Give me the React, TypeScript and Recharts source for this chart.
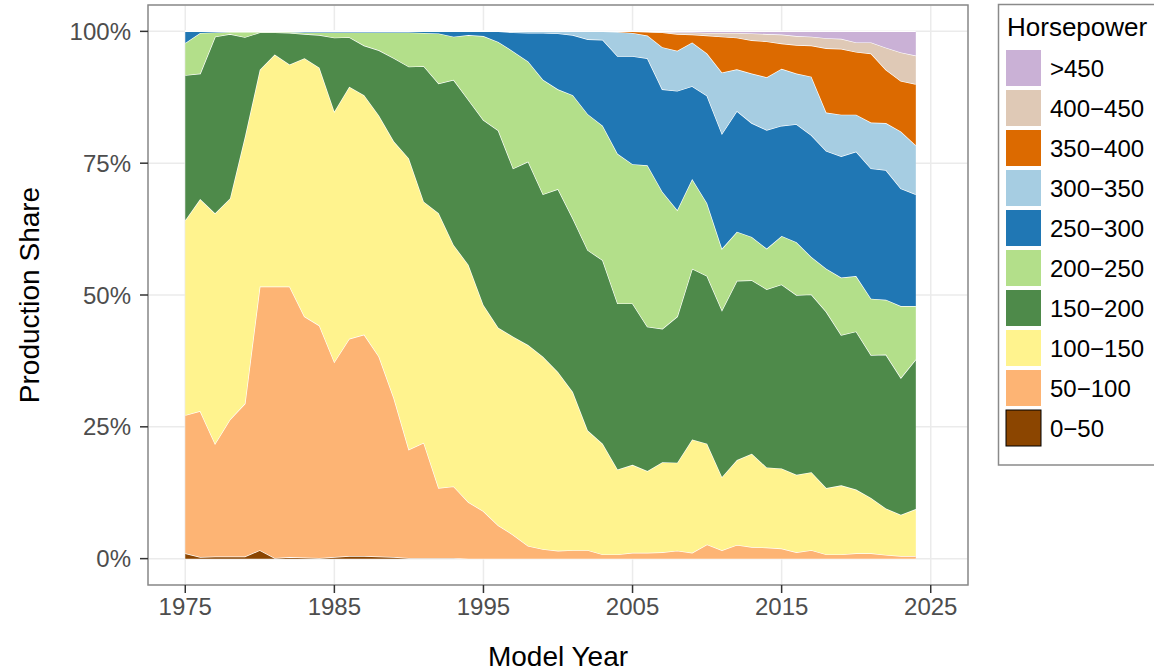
import React from 'react';
import { AreaChart, Area, XAxis, YAxis, CartesianGrid, ReferenceArea } from 'recharts';

const FONT = '"Liberation Sans", Arial, Helvetica, sans-serif';

const years = [
  1975, 1976, 1977, 1978, 1979, 1980, 1981, 1982, 1983, 1984,
  1985, 1986, 1987, 1988, 1989, 1990, 1991, 1992, 1993, 1994,
  1995, 1996, 1997, 1998, 1999, 2000, 2001, 2002, 2003, 2004,
  2005, 2006, 2007, 2008, 2009, 2010, 2011, 2012, 2013, 2014,
  2015, 2016, 2017, 2018, 2019, 2020, 2021, 2022, 2023, 2024,
];

const hp0to50 = [
  1.0, 0.3, 0.4, 0.4, 0.4, 1.6, 0.1, 0.3, 0.2, 0.1,
  0.3, 0.5, 0.5, 0.4, 0.3, 0.1, 0.1, 0.1, 0.1, 0,
  0, 0, 0, 0, 0, 0, 0, 0, 0, 0,
  0, 0, 0, 0, 0, 0, 0, 0, 0, 0,
  0, 0, 0, 0, 0, 0, 0, 0, 0, 0,
];
const hp50to100 = [
  26.2, 27.7, 21.4, 26.0, 29.0, 50.0, 51.5, 51.3, 45.7, 44.1,
  37.0, 41.2, 42.0, 37.9, 30.1, 20.6, 21.9, 13.3, 13.6, 10.7,
  9.0, 6.3, 4.5, 2.4, 1.8, 1.5, 1.6, 1.6, 0.8, 0.8,
  1.1, 1.1, 1.2, 1.5, 1.1, 2.7, 1.6, 2.6, 2.2, 2.1,
  1.9, 1.2, 1.6, 0.8, 0.8, 1.0, 1.0, 0.7, 0.5, 0.5,
];
const hp100to150 = [
  37.0, 40.2, 43.7, 41.9, 50.6, 41.1, 44.0, 42.1, 49.0, 48.9,
  47.5, 47.8, 45.4, 45.7, 48.7, 55.2, 45.7, 52.1, 45.8, 45.0,
  39.1, 37.5, 37.6, 38.1, 36.5, 33.9, 30.0, 22.7, 21.0, 16.1,
  16.7, 15.5, 17.1, 16.7, 21.5, 19.1, 13.9, 16.1, 17.7, 15.2,
  15.2, 14.7, 14.8, 12.6, 13.1, 12.1, 10.5, 8.8, 7.8, 8.9,
];
const hp150to200 = [
  27.5, 23.8, 33.5, 31.2, 18.9, 7.1, 4.2, 6.0, 4.6, 6.2,
  14.0, 9.4, 9.4, 12.4, 15.8, 17.4, 25.7, 24.6, 31.3, 31.3,
  35.1, 37.4, 31.9, 34.8, 30.8, 34.7, 32.9, 34.2, 34.8, 31.5,
  30.6, 27.4, 25.3, 27.7, 32.4, 31.8, 31.6, 34.0, 32.9, 33.8,
  34.9, 34.1, 33.7, 33.4, 28.5, 30.0, 27.1, 29.2, 26.0, 28.4,
];
const hp200to250 = [
  6.1, 7.7, 0.8, 0.4, 1.0, 0.1, 0.1, 0.2, 0.3, 0.5,
  1.0, 0.9, 2.5, 3.4, 4.9, 6.5, 6.3, 9.5, 8.2, 12.3,
  15.9, 16.8, 22.2, 19.0, 21.7, 18.9, 23.4, 25.8, 25.5, 28.4,
  26.4, 30.6, 26.0, 20.2, 17.0, 13.8, 11.7, 9.3, 8.2, 7.7,
  9.2, 10.0, 7.1, 8.2, 10.9, 10.5, 10.7, 10.4, 13.6, 10.1,
];
const hp250to300 = [
  2.2, 0.3, 0.2, 0.1, 0.1, 0.1, 0.1, 0.1, 0.2, 0.2,
  0.2, 0.2, 0.2, 0.2, 0.2, 0.2, 0.3, 0.4, 1.0, 0.7,
  0.9, 2.0, 3.6, 5.4, 8.9, 10.6, 11.4, 14.2, 16.3, 18.5,
  20.5, 20.3, 19.4, 22.6, 17.6, 20.4, 21.8, 22.9, 21.6, 22.5,
  20.9, 22.4, 23.1, 22.3, 23.0, 23.6, 24.7, 24.6, 22.3, 21.2,
];
const hp300to350 = [
  0, 0, 0, 0, 0, 0, 0, 0, 0, 0,
  0, 0, 0, 0, 0, 0, 0, 0, 0, 0,
  0, 0, 0.2, 0.3, 0.3, 0.4, 0.7, 1.5, 1.6, 4.6,
  4.4, 4.3, 8.0, 7.6, 8.3, 8.0, 11.6, 7.9, 9.4, 10.0,
  10.8, 9.6, 11.1, 7.3, 7.9, 7.0, 8.7, 8.9, 10.8, 9.3,
];
const hp350to400 = [
  0, 0, 0, 0, 0, 0, 0, 0, 0, 0,
  0, 0, 0, 0, 0, 0, 0, 0, 0, 0,
  0, 0, 0, 0, 0, 0, 0, 0, 0, 0.1,
  0.3, 0.7, 2.8, 3.2, 1.5, 3.4, 6.8, 6.0, 6.3, 6.8,
  4.8, 5.4, 5.9, 12.2, 12.5, 11.9, 13.1, 10.1, 9.6, 11.6,
];
const hp400to450 = [
  0, 0, 0, 0, 0, 0, 0, 0, 0, 0,
  0, 0, 0, 0, 0, 0, 0, 0, 0, 0,
  0, 0, 0, 0, 0, 0, 0, 0, 0, 0,
  0, 0.1, 0.1, 0.3, 0.4, 0.5, 0.7, 0.9, 1.3, 1.4,
  1.7, 1.7, 1.7, 1.9, 1.9, 1.8, 2.1, 4.2, 5.4, 5.4,
];
const hpOver450 = [
  0, 0, 0, 0, 0, 0, 0, 0, 0, 0,
  0, 0, 0, 0, 0, 0, 0, 0, 0, 0,
  0, 0, 0, 0, 0, 0, 0, 0, 0, 0,
  0, 0, 0.1, 0.2, 0.2, 0.3, 0.3, 0.3, 0.4, 0.5,
  0.6, 0.9, 1.0, 1.3, 1.4, 2.1, 2.1, 3.1, 4.0, 4.6,
];

// bottom to top
const seriesKeys = ['h0', 'h50', 'h100', 'h150', 'h200', 'h250', 'h300', 'h350', 'h400', 'h450'];
const seriesNames = ['0\u221250', '50\u2212100', '100\u2212150', '150\u2212200', '200\u2212250', '250\u2212300', '300\u2212350', '350\u2212400', '400\u2212450', '>450'];
const seriesColors = ['#8B4500', '#FDB474', '#FFF38E', '#4E8A4A', '#B3DF8A', '#2077B4', '#A6CDE2', '#DC6A00', '#DFC9B6', '#CAB1D6'];
const seriesValues = [hp0to50, hp50to100, hp100to150, hp150to200, hp200to250, hp250to300, hp300to350, hp350to400, hp400to450, hpOver450];

const xTicks = [1975, 1985, 1995, 2005, 2015, 2025];
const yTicks = [0, 25, 50, 75, 100];
const yTickLabels = ['0%', '25%', '50%', '75%', '100%'];

const data = years.map((year, i) => {
  const row: Record<string, number> = { year };
  seriesKeys.forEach((k, j) => {
    row[k] = seriesValues[j][i];
  });
  return row;
});

const YTitle = (props: any) => {
  const vb = props.viewBox || { x: 0, y: 0, width: 0, height: 0 };
  const cx = vb.x + 29;
  const cy = vb.y + vb.height / 2;
  return (
    <text
      x={cx}
      y={cy}
      transform={`rotate(-90 ${cx} ${cy})`}
      textAnchor="middle"
      dominantBaseline="central"
      fontSize={28}
      fontFamily={FONT}
      fill="#000"
    >
      Production Share
    </text>
  );
};

const LegendBox = () => {
  const order = [...seriesKeys.keys()].reverse();
  return (
    <svg
      width={1154}
      height={671}
      style={{ position: 'absolute', left: 0, top: 0, pointerEvents: 'none' }}
    >
      <rect x={998.5} y={4.5} width={170} height={460.5} fill="#fff" stroke="#8a8a8a" strokeWidth={1.5} />
      <text x={1007} y={36} fontSize={26} fontFamily={FONT} fill="#000">
        Horsepower
      </text>
      {order.map((j, r) => (
        <g key={seriesKeys[j]}>
          <rect
            x={1006}
            y={50 + r * 40}
            width={35}
            height={36}
            fill={seriesColors[j]}
            stroke={j === 0 ? '#000' : 'none'}
            strokeWidth={1}
          />
          <text
            x={1050}
            y={50 + r * 40 + 18}
            fontSize={24}
            fontFamily={FONT}
            fill="#000"
            dominantBaseline="central"
          >
            {seriesNames[j]}
          </text>
        </g>
      ))}
    </svg>
  );
};

export default function App() {
  return (
    <div
      style={{
        position: 'absolute',
        left: 0,
        top: 0,
        width: 1154,
        height: 671,
        background: '#fff',
        fontFamily: FONT,
        overflow: 'hidden',
      }}
    >
      <AreaChart
        width={1154}
        height={671}
        data={data}
        margin={{ top: 5, right: 186, bottom: 0, left: 0 }}
      >
        <CartesianGrid stroke="#EBEBEB" strokeWidth={1.5} />
        <XAxis
          dataKey="year"
          type="number"
          domain={[1972.5, 2027.5]}
          ticks={xTicks}
          allowDataOverflow
          height={86}
          tickSize={8}
          tickMargin={5}
          axisLine={false}
          tickLine={{ stroke: '#333', strokeWidth: 1.5 }}
          tick={{ fill: '#4D4D4D', fontSize: 24, fontFamily: FONT }}
          label={{ value: 'Model Year', position: 'insideBottom', offset: 5, fill: '#000', fontSize: 28, fontFamily: FONT }}
        />
        <YAxis
          type="number"
          domain={[-5, 105]}
          ticks={yTicks}
          allowDataOverflow
          width={148}
          tickSize={8}
          tickMargin={9}
          axisLine={false}
          tickFormatter={(v: number) => yTickLabels[yTicks.indexOf(v)] ?? ''}
          tickLine={{ stroke: '#333', strokeWidth: 1.5 }}
          tick={{ fill: '#4D4D4D', fontSize: 24, fontFamily: FONT }}
          label={<YTitle />}
        />
        {seriesKeys.map((k, j) => (
          <Area
            key={k}
            type="linear"
            dataKey={k}
            name={seriesNames[j]}
            stackId="hp"
            stroke="#fff"
            strokeWidth={1.3}
            fill={seriesColors[j]}
            fillOpacity={1}
            dot={false}
            activeDot={false}
            isAnimationActive={false}
          />
        ))}
        <ReferenceArea
          x1={1972.5}
          x2={2027.5}
          y1={-5}
          y2={105}
          fill="none"
          fillOpacity={0}
          stroke="#8a8a8a"
          strokeWidth={1.5}
          ifOverflow="visible"
        />
      </AreaChart>
      <LegendBox />
    </div>
  );
}
